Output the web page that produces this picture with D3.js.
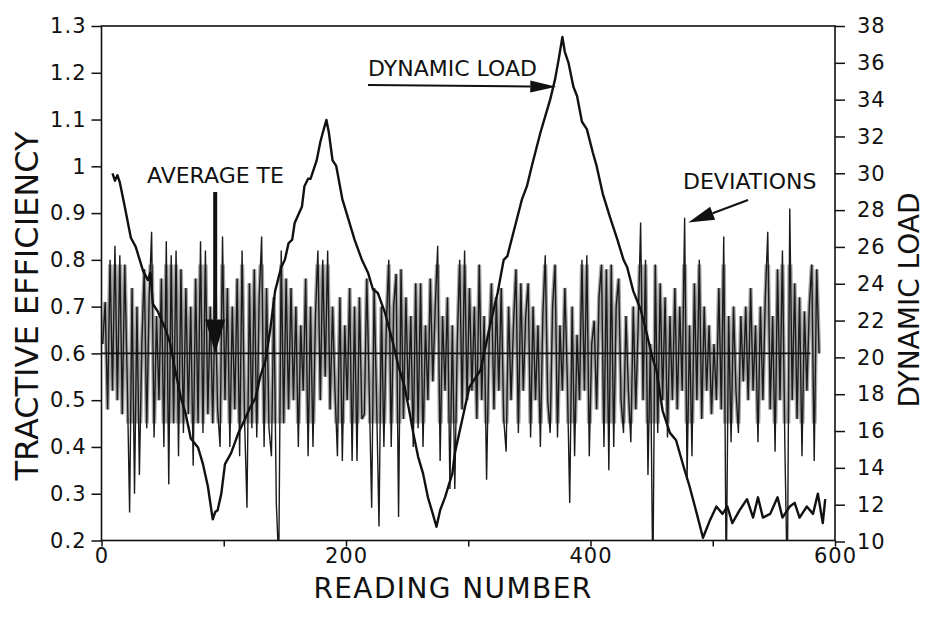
<!DOCTYPE html>
<html>
<head>
<meta charset="utf-8" />
<title>tractive efficiency vs reading number</title>
<script src="https://d3js.org/d3.v7.min.js"></script>
<style>
  body { margin: 0; background: #fff; }
  text { font-family: "DejaVu Sans", "Liberation Sans", sans-serif; fill: #111; }
</style>
</head>
<body>
<svg id="chart" width="925" height="617"></svg>
<script>
// tractive efficiency, one value every 2nd reading starting at reading 1
const teFirstReading = 1;
const teReadingStep = 2;
const teValues = [
  .62,.71,.48,.80,.52,.83,.50,.81,.47,.79,
  .55,.26,.74,.30,.70,.34,.62,.78,.44,.72,
  .86,.42,.68,.50,.76,.40,.84,.32,.81,.45,
  .82,.38,.78,.43,.74,.47,.70,.36,.76,.45,
  .84,.43,.82,.47,.70,.45,.72,.48,.40,.85,
  .50,.74,.40,.70,.48,.76,.38,.82,.46,.27,
  .75,.44,.78,.42,.72,.85,.40,.74,.44,.38,
  .72,.28,.15,.82,.45,.76,.48,.74,.50,.70,
  .40,.66,.52,.76,.38,.70,.40,.68,.82,.50,
  .80,.55,.82,.48,.70,.52,.38,.72,.37,.66,
  .50,.74,.37,.70,.37,.72,.46,.47,.76,.52,
  .27,.74,.50,.23,.70,.40,.66,.80,.40,.70,
  .77,.25,.78,.46,.72,.50,.68,.40,.75,.44,
  .75,.40,.66,.50,.76,.54,.70,.83,.37,.68,
  .52,.72,.31,.66,.31,.62,.80,.48,.82,.50,
  .74,.52,.70,.46,.79,.50,.68,.33,.62,.75,
  .48,.72,.52,.74,.46,.39,.70,.50,.66,.78,
  .43,.75,.52,.68,.75,.42,.70,.50,.66,.40,
  .68,.81,.50,.43,.70,.79,.42,.66,.52,.74,
  .55,.28,.70,.38,.64,.50,.80,.52,.81,.38,
  .62,.67,.48,.72,.79,.40,.78,.35,.79,.40,
  .70,.76,.50,.43,.68,.52,.41,.70,.48,.66,
  .88,.50,.80,.34,.62,.10,.79,.43,.75,.50,
  .72,.42,.68,.50,.74,.48,.70,.52,.89,.33,
  .66,.38,.75,.50,.80,.46,.70,.52,.66,.47,
  .62,.50,.74,.48,.85,.10,.68,.41,.70,.52,
  .43,.68,.54,.70,.50,.74,.52,.66,.41,.70,
  .50,.72,.86,.48,.68,.39,.78,.50,.82,.40,
  .10,.91,.50,.75,.46,.72,.38,.69,.52,.70,
  .79,.37,.78,.60
];
// the print shows the densest part of the trace as a grey band
const bandLow = 0.45;
const bandHigh = 0.79;

// dynamic load (right axis)
const loadReadings = [
  9,11,13,15,19,24,28,34,38,40,42,46,52,56,60,65,69,73,79,83,87,91,93,95,98,
  101,106,112,117,121,126,130,134,138,142,147,150,153,156,158,164,166,169,171,
  176,179,181,184,186,189,192,197,202,207,213,218,222,226,232,238,243,248,252,
  255,259,263,267,271,274,277,281,287,289,295,301,310,318,324,329,332,337,344,
  348,352,359,363,367,371,374,377,379,382,386,389,393,397,402,405,410,416,422,
  427,430,435,441,446,451,454,459,465,470,476,481,487,492,498,503,508,512,516,
  522,528,533,537,541,547,553,557,563,567,571,577,582,586,590,592
];
const loadValues = [
  30.0,29.6,29.9,29.5,28.2,26.5,26.0,24.7,24.2,24.6,22.9,22.5,21.6,20.8,19.4,17.8,16.9,15.6,15.1,14.2,13.0,11.2,11.6,11.7,12.6,
  14.2,14.8,15.9,16.6,17.2,17.8,19.0,19.8,21.5,23.6,24.9,25.3,26.2,26.4,27.3,28.2,29.3,29.7,29.7,
  30.7,31.7,32.2,32.9,32.2,30.7,30.4,28.6,27.5,26.4,25.3,24.6,23.7,23.5,22.4,20.9,19.5,18.4,17.0,
  15.9,14.6,13.7,12.4,11.5,10.8,11.7,12.4,13.7,14.8,16.6,18.4,19.3,21.8,23.5,25.3,25.5,26.8,28.6,
  29.3,30.4,32.2,33.1,34.0,35.1,36.2,37.4,36.6,36.0,34.7,34.2,32.8,32.4,31.1,30.4,28.9,27.6,26.4,
  25.3,24.9,23.6,22.6,21.3,19.9,19.3,17.1,15.9,15.5,14.1,13.0,11.5,10.2,11.2,11.9,11.5,11.9,11.0,
  11.7,12.3,11.3,12.4,11.3,11.5,12.4,11.3,11.9,12.1,11.3,11.9,11.5,12.6,11.0,12.3
];

const averageTE = 0.6;
const averageEndReading = 580;

const readingTicks = [0, 100, 200, 300, 400, 500, 600];
const teTicks = [0.2, 0.3, 0.4, 0.5, 0.6, 0.7, 0.8, 0.9, 1.0, 1.1, 1.2, 1.3];
const loadTicks = [10, 12, 14, 16, 18, 20, 22, 24, 26, 28, 30, 32, 34, 36, 38];

const svg = d3.select("#chart");
const x = d3.scaleLinear().domain([0, 600]).range([101.5, 835]);
const yTe = d3.scaleLinear().domain([0.2, 1.3]).range([540.5, 26]);
const yLoad = d3.scaleLinear().domain([10, 38]).range([541.5, 26]);

const defs = svg.append("defs");
defs.append("clipPath").attr("id", "plot")
  .append("rect")
  .attr("x", x(0)).attr("y", yTe(1.3))
  .attr("width", x(600) - x(0)).attr("height", yTe(0.2) - yTe(1.3));
defs.append("clipPath").attr("id", "band")
  .append("rect")
  .attr("x", x(0)).attr("y", yTe(bandHigh))
  .attr("width", x(600) - x(0)).attr("height", yTe(bandLow) - yTe(bandHigh));

// TE deviations
const te = teValues.map((v, i) => ({ r: teFirstReading + i * teReadingStep, v: v }));
const teLine = d3.line().x(d => x(d.r)).y(d => yTe(d.v));
svg.append("path")
  .datum(te)
  .attr("clip-path", "url(#band)")
  .attr("fill", "none")
  .attr("stroke", "#a6a6a6")
  .attr("stroke-width", 4)
  .attr("d", teLine);
svg.append("path")
  .datum(te)
  .attr("clip-path", "url(#plot)")
  .attr("fill", "none")
  .attr("stroke", "#1a1a1a")
  .attr("stroke-width", 1.4)
  .attr("d", teLine);

// average TE
svg.append("line")
  .attr("x1", x(0)).attr("x2", x(averageEndReading))
  .attr("y1", yTe(averageTE)).attr("y2", yTe(averageTE))
  .attr("stroke", "#111").attr("stroke-width", 1.6);

// dynamic load
const load = loadReadings.map((r, i) => ({ r: r, v: loadValues[i] }));
svg.append("path")
  .datum(load)
  .attr("fill", "none")
  .attr("stroke", "#111")
  .attr("stroke-width", 2.4)
  .attr("stroke-linejoin", "round")
  .attr("d", d3.line().x(d => x(d.r)).y(d => yLoad(d.v)));

// frame
svg.append("rect")
  .attr("x", x(0)).attr("y", yTe(1.3))
  .attr("width", x(600) - x(0)).attr("height", yTe(0.2) - yTe(1.3))
  .attr("fill", "none").attr("stroke", "#111").attr("stroke-width", 1.6);

const styleAxis = g => {
  g.select(".domain").remove();
  g.selectAll("line").attr("stroke", "#111").attr("stroke-width", 1.5);
  g.selectAll("text").attr("font-size", 21).attr("letter-spacing", 1)
    .attr("font-family", "DejaVu Sans").attr("fill", "#111");
};

svg.append("g")
  .attr("transform", `translate(${x(0)},0)`)
  .call(d3.axisLeft(yTe).tickValues(teTicks).tickSize(10).tickPadding(5)
    .tickFormat(d => d === 1 ? "1" : d3.format(".1f")(d)))
  .call(styleAxis);

svg.append("g")
  .attr("transform", `translate(${x(600)},0)`)
  .call(d3.axisRight(yLoad).tickValues(loadTicks).tickSize(10).tickPadding(12))
  .call(styleAxis);

svg.append("g")
  .attr("transform", `translate(0,${yTe(0.2)})`)
  .call(d3.axisBottom(x).tickValues(readingTicks).tickSize(6).tickPadding(2)
    .tickFormat(d => d % 200 === 0 ? d : ""))
  .call(styleAxis);

// axis titles
svg.append("text")
  .attr("transform", "translate(38,306) rotate(-90)")
  .attr("text-anchor", "middle").attr("font-size", 32)
  .text("TRACTIVE EFFICIENCY");
svg.append("text")
  .attr("transform", "translate(919,300) rotate(-90)")
  .attr("text-anchor", "middle").attr("font-size", 28)
  .text("DYNAMIC LOAD");
svg.append("text")
  .attr("x", 453).attr("y", 598)
  .attr("text-anchor", "middle").attr("font-size", 28).attr("letter-spacing", 1.4)
  .text("READING NUMBER");

// annotations
const arrowHead = (tip, from, len, half) => {
  const dx = tip[0] - from[0], dy = tip[1] - from[1];
  const d = Math.hypot(dx, dy), ux = dx / d, uy = dy / d;
  const bx = tip[0] - ux * len, by = tip[1] - uy * len;
  return [tip, [bx - uy * half, by + ux * half], [bx + uy * half, by - ux * half]];
};
const drawArrow = (from, tip, width, len, half) => {
  const head = arrowHead(tip, from, len, half);
  const base = [(head[1][0] + head[2][0]) / 2, (head[1][1] + head[2][1]) / 2];
  svg.append("line")
    .attr("x1", from[0]).attr("y1", from[1]).attr("x2", base[0]).attr("y2", base[1])
    .attr("stroke", "#111").attr("stroke-width", width);
  svg.append("polygon").attr("points", head.map(p => p.join(",")).join(" ")).attr("fill", "#111");
};

svg.append("text").attr("x", 147).attr("y", 183).attr("font-size", 22).text("AVERAGE TE");
drawArrow([x(93), yTe(0.945)], [x(93), yTe(0.6)], 4, 34, 10);

svg.append("text").attr("x", 368).attr("y", 76).attr("font-size", 22).text("DYNAMIC LOAD");
drawArrow([x(218), yTe(1.174)], [x(372), yTe(1.170)], 2, 26, 6);

svg.append("text").attr("x", 683).attr("y", 189).attr("font-size", 22).text("DEVIATIONS");
drawArrow([748, 200], [x(480), yTe(0.88)], 2, 26, 7);
</script>
</body>
</html>
